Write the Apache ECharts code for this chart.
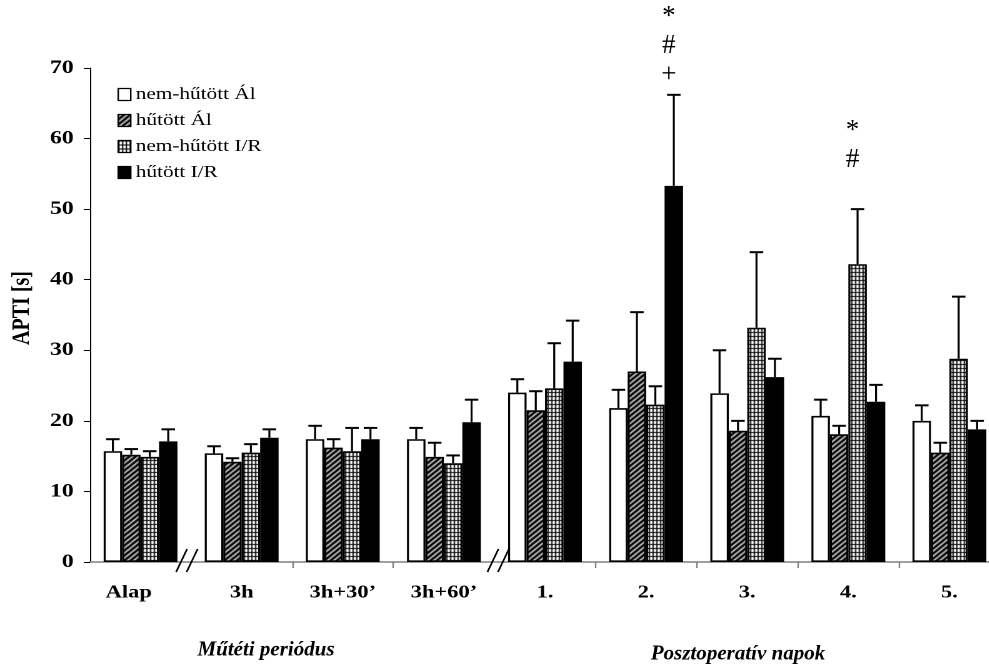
<!DOCTYPE html>
<html>
<head>
<meta charset="utf-8">
<script src="https://cdn.jsdelivr.net/npm/echarts@6/dist/echarts.min.js"></script>
<style>
  html, body { margin: 0; padding: 0; background: #fff; overflow: hidden; width: 989px; height: 670px; }
  /* The figure is laid out 800px wide and shown widened horizontally */
  #chart { width: 800px; height: 670px; transform: scaleX(1.25); transform-origin: 0 0; }
</style>
</head>
<body>
<div id="chart"></div>
<script>
// Categories: surgical period and postoperative days
const categories = ['Alap', '3h', '3h+30\u2019', '3h+60\u2019', '1.', '2.', '3.', '4.', '5.'];

// Group names
const groupNames = ['nem-hűtött Ál', 'hűtött Ál', 'nem-hűtött I/R', 'hűtött I/R'];

// APTI means [s]
const nemHutottAl = [15.7, 15.4, 17.4, 17.4, 24.0, 21.8, 23.9, 20.7, 20.0];
const hutottAl    = [15.2, 14.2, 16.2, 14.9, 21.5, 27.0, 18.6, 18.1, 15.5];
const nemHutottIR = [14.9, 15.5, 15.7, 14.0, 24.6, 22.3, 33.2, 42.2, 28.8];
const hutottIR    = [17.1, 17.6, 17.4, 19.8, 28.4, 53.3, 26.2, 22.7, 18.8];

// Standard deviations (upper whiskers)
const nemHutottAlSD = [1.7, 1.0, 1.9, 1.6, 1.9, 2.6, 6.1, 2.3, 2.2];
const hutottAlSD    = [0.8, 0.5, 1.2, 2.0, 2.7, 8.4, 1.4, 1.2, 1.4];
const nemHutottIRSD = [0.8, 1.2, 3.3, 1.1, 6.4, 2.6, 10.7, 7.8, 8.8];
const hutottIRSD    = [1.7, 1.2, 1.6, 3.2, 5.8, 12.9, 2.6, 2.4, 1.2];

// Significance marks above bars (rows from bottom to top)
const sigMarks = [
  { cat: '2.', group: 3, rows: ['+', '#', '*'] },
  { cat: '4.', group: 2, rows: ['', '#', '*'] }
];

// Axis breaks sit on the left boundary of these categories
const breakBefore = ['3h', '1.'];

const yTicks = { min: 0, max: 70, interval: 10 };

const means = [nemHutottAl, hutottAl, nemHutottIR, hutottIR];
const sds = [nemHutottAlSD, hutottAlSD, nemHutottIRSD, hutottIRSD];

const STRETCH = 1.25;           // horizontal widening of the whole figure
const UN = 1 / STRETCH;         // undo widening for upright text
const CAT_GAP = 0.27;
const SERIF = 'Liberation Serif, Times New Roman, serif';

// Fill patterns
function hatchPattern() {
  const s = 5;
  const c = document.createElement('canvas');
  c.width = s; c.height = s;
  const g = c.getContext('2d');
  g.fillStyle = '#fff';
  g.fillRect(0, 0, s, s);
  g.strokeStyle = '#000';
  g.lineWidth = 2.3;
  g.beginPath();
  g.moveTo(-s, 2 * s); g.lineTo(2 * s, -s);
  g.moveTo(-2 * s, 2 * s); g.lineTo(s, -s);
  g.moveTo(0, 2 * s); g.lineTo(3 * s, -s);
  g.stroke();
  return { image: c, repeat: 'repeat' };
}
function gridPattern() {
  const c = document.createElement('canvas');
  c.width = 3; c.height = 4;
  const g = c.getContext('2d');
  g.fillStyle = '#fff';
  g.fillRect(0, 0, 3, 4);
  g.fillStyle = '#000';
  g.fillRect(0, 0, 3, 1);
  g.fillRect(0, 0, 1, 4);
  return { image: c, repeat: 'repeat' };
}
const fills = ['#ffffff', hatchPattern(), gridPattern(), '#000000'];

function barOffset(api, k) {
  const bandW = api.size([1, 0])[0];
  const barW = bandW * (1 - CAT_GAP) / 4;
  return (k - 1.5) * barW;
}

function errorRender(k) {
  return function (params, api) {
    const idx = api.value(0);
    const m = api.value(1);
    const sd = api.value(2);
    const cx = api.coord([idx, 0])[0] + barOffset(api, k);
    const yb = api.coord([idx, m])[1];
    const yt = api.coord([idx, m + sd])[1];
    return {
      type: 'group',
      children: [
        { type: 'line', shape: { x1: cx, y1: yb, x2: cx, y2: yt }, style: { stroke: '#000', lineWidth: 1.6 } },
        { type: 'line', shape: { x1: cx - 5.4, y1: yt, x2: cx + 5.4, y2: yt }, style: { stroke: '#000', lineWidth: 2 } }
      ]
    };
  };
}

function marksRender(params, api) {
  const mk = sigMarks[params.dataIndex];
  const idx = api.value(0);
  const top = api.value(1);
  const cx = api.coord([idx, 0])[0] + barOffset(api, mk.group) - 4;
  const yt = api.coord([idx, top])[1];
  const children = mk.rows.map((t, r) => ({
    type: 'text',
    x: cx,
    y: yt - 20 - 29 * r,
    scaleX: UN,
    style: { text: t, font: '27px ' + SERIF, fill: '#000', align: 'center', verticalAlign: 'middle' }
  }));
  return { type: 'group', children };
}

const series = [];
groupNames.forEach((name, k) => {
  series.push({
    name,
    type: 'bar',
    data: means[k],
    barGap: '0%',
    barCategoryGap: (CAT_GAP * 100) + '%',
    itemStyle: { color: fills[k], borderColor: '#000', borderWidth: 1.6 },
    emphasis: { disabled: true },
    animation: false,
    z: 2
  });
});
groupNames.forEach((name, k) => {
  series.push({
    name: 'sd-' + k,
    type: 'custom',
    renderItem: errorRender(k),
    data: means[k].map((v, i) => [i, v, sds[k][i]]),
    z: 3,
    animation: false,
    silent: true
  });
});
series.push({
  name: 'sig',
  type: 'custom',
  renderItem: marksRender,
  data: sigMarks.map(m => {
    const i = categories.indexOf(m.cat);
    return [i, means[m.group][i] + sds[m.group][i]];
  }),
  z: 4,
  animation: false,
  silent: true
});

const breakIdx = breakBefore.map(c => categories.indexOf(c));

const chart = echarts.init(document.getElementById('chart'), null, { renderer: 'canvas', devicePixelRatio: 2 });
chart.setOption({
  backgroundColor: '#fff',
  animation: false,
  grid: { left: 70.4, right: 0, top: 68, bottom: 108, containLabel: false },
  legend: {
    data: groupNames,
    orient: 'vertical',
    left: 89,
    top: 81,
    padding: 5,
    itemWidth: 10,
    itemHeight: 12,
    itemGap: 9,
    icon: 'rect',
    selectedMode: false,
    itemStyle: { borderColor: '#000', borderWidth: 1.2 },
    textStyle: { fontFamily: SERIF, fontSize: 17, color: '#000', padding: [0, 0, 0, -1] }
  },
  xAxis: {
    type: 'category',
    data: categories,
    boundaryGap: true,
    axisLine: { lineStyle: { color: '#808080', width: 1.5 } },
    axisTick: {
      show: true,
      length: 6,
      lineStyle: { color: '#808080', width: 1.2 },
      interval: function (index) { return index !== 0 && breakIdx.indexOf(index) < 0; }
    },
    axisLabel: {
      interval: 0,
      margin: 22,
      fontFamily: SERIF,
      fontWeight: 'bold',
      fontSize: 18,
      color: '#000',
      formatter: function (v) { return v === 'Alap' ? '{a|' + v + '}' : v; },
      rich: { a: { fontFamily: SERIF, fontWeight: 'bold', fontSize: 18, color: '#000', padding: [0, 19, 0, 0] } }
    },
    splitLine: { show: false }
  },
  yAxis: {
    type: 'value',
    min: yTicks.min,
    max: yTicks.max,
    interval: yTicks.interval,
    name: 'APTI [s]',
    nameLocation: 'middle',
    nameGap: 44,
    nameRotate: 90,
    nameTextStyle: { fontFamily: SERIF, fontWeight: 'bold', fontSize: 20, color: '#000', padding: [0, 0, 0, 14] },
    axisLine: { show: true, lineStyle: { color: '#000', width: 1 } },
    axisTick: { show: true, length: 5, lineStyle: { color: '#000', width: 1 } },
    axisLabel: { margin: 13, fontFamily: SERIF, fontWeight: 'bold', fontSize: 19, color: '#000' },
    splitLine: { show: false }
  },
  series
});

// Axis titles and break marks on the category axis
const y0 = chart.convertToPixel({ yAxisIndex: 0 }, 0);
const c0 = chart.convertToPixel({ xAxisIndex: 0 }, 0);
const c1 = chart.convertToPixel({ xAxisIndex: 0 }, 1);
const band = c1 - c0;
const shifts = [-3.2, 3.2];
const graphics = [];
breakIdx.forEach((i, n) => {
  const b = chart.convertToPixel({ xAxisIndex: 0 }, i) - band / 2 + shifts[n];
  [-4.4, 4].forEach(dx => {
    graphics.push({
      type: 'line',
      shape: { x1: b + dx - 4.4, y1: y0 + 10, x2: b + dx + 4.4, y2: y0 - 13 },
      style: { stroke: '#000', lineWidth: 1.4 },
      z: 10
    });
  });
});
graphics.push({
  type: 'text', x: 266 * UN, y: 650, scaleX: UN,
  style: { text: 'Műtéti periódus', font: 'italic bold 21px ' + SERIF, fill: '#000', align: 'center', verticalAlign: 'middle' }
});
graphics.push({
  type: 'text', x: 738 * UN, y: 654, scaleX: UN,
  style: { text: 'Posztoperatív napok', font: 'italic bold 21px ' + SERIF, fill: '#000', align: 'center', verticalAlign: 'middle' }
});
chart.setOption({ graphic: graphics });
</script>
</body>
</html>
